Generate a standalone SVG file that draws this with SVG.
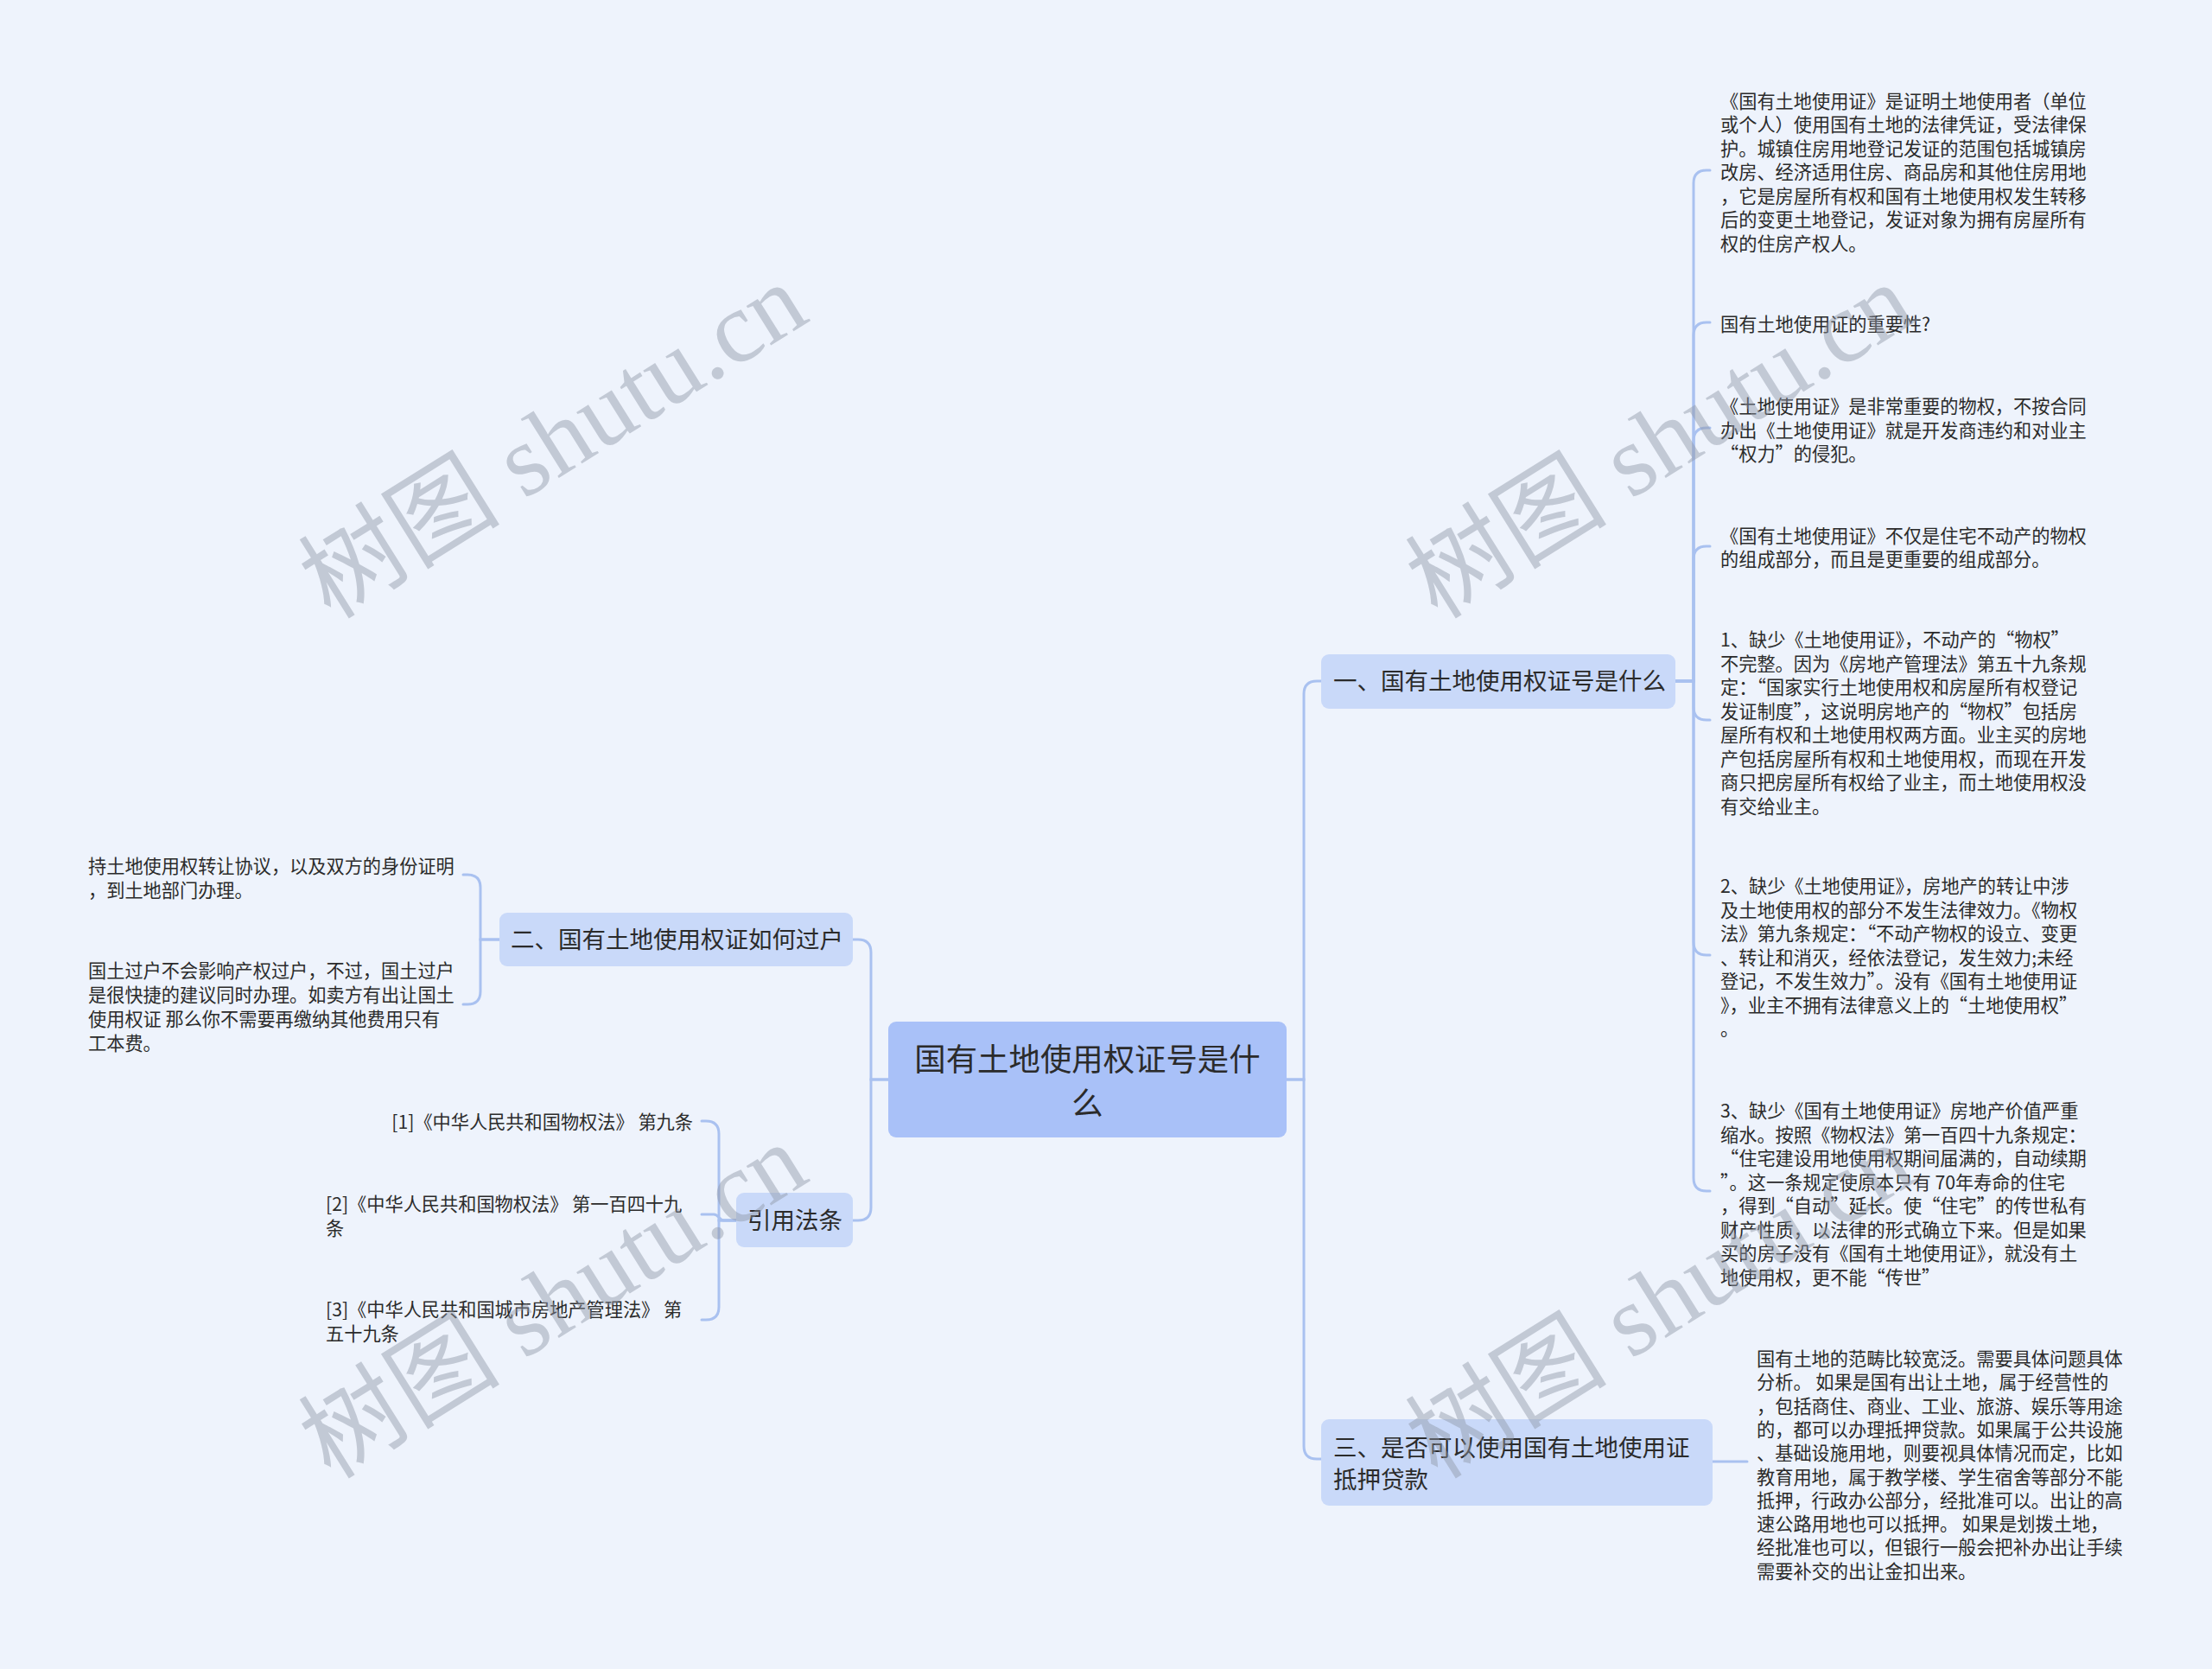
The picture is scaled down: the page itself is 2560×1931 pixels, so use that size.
<svg xmlns="http://www.w3.org/2000/svg" width="2560" height="1931" viewBox="0 0 2560 1931">
<style>
.bg{fill:#eef3fc}
.main{fill:#a9c1f8}
.branch{fill:#c9d9f9}
.conn{fill:none;stroke:#a9c1f0;stroke-width:3;stroke-linecap:round}
.t{font-family:"Noto Sans CJK SC","Noto Sans",sans-serif;fill:#2b2b2b}
.leaf{font-size:21.2px}
.bt{font-size:27.5px}
.mt{font-size:36.4px}
.q{font-feature-settings:"fwid" 1}
.wm{font-family:"Liberation Serif","Noto Sans CJK SC",serif;font-size:117px;fill:#8f97a6;opacity:0.45}
</style>
<rect class="bg" x="0" y="0" width="2560" height="1931"/>

<g id="connectors">
  <path class="conn" d="M1489 1249 H1509 V803 Q1509 788 1524 788 H1529"/>
  <path class="conn" d="M1489 1249 H1509 V1673 Q1509 1688 1524 1688 H1529"/>
  <path class="conn" d="M1028 1249 H1008 V1102 Q1008 1087 993 1087 H987"/>
  <path class="conn" d="M1028 1249 H1008 V1397 Q1008 1412 993 1412 H987"/>
  <path class="conn" d="M1939 788 H1960 V212 Q1960 197 1975 197 H1979"/>
  <path class="conn" d="M1939 788 H1960 V388 Q1960 373 1975 373 H1979"/>
  <path class="conn" d="M1939 788 H1960 V510 Q1960 495 1975 495 H1979"/>
  <path class="conn" d="M1939 788 H1960 V647 Q1960 632 1975 632 H1979"/>
  <path class="conn" d="M1939 788 H1960 V818 Q1960 833 1975 833 H1979"/>
  <path class="conn" d="M1939 788 H1960 V1090 Q1960 1105 1975 1105 H1979"/>
  <path class="conn" d="M1939 788 H1960 V1363 Q1960 1378 1975 1378 H1979"/>
  <path class="conn" d="M1982 1691 H2022"/>
  <path class="conn" d="M578 1087 H556 V1027 Q556 1012 541 1012 H536"/>
  <path class="conn" d="M578 1087 H556 V1147 Q556 1162 541 1162 H536"/>
  <path class="conn" d="M852 1412 H832 V1312 Q832 1297 817 1297 H812"/>
  <path class="conn" d="M852 1412 H838 C832 1412 832 1405 826 1405 H812"/>
  <path class="conn" d="M852 1412 H832 V1512 Q832 1527 817 1527 H812"/>
</g>

<g id="root">
  <rect class="main" x="1028" y="1182" width="461" height="134" rx="9"/>
  <text class="t mt" x="1258.5" text-anchor="middle"><tspan x="1258.5" y="1239">国有土地使用权证号是什</tspan><tspan x="1258.5" y="1290">么</tspan></text>
</g>

<g id="b1">
  <rect class="branch" x="1529" y="757" width="410" height="63" rx="9"/>
  <text class="t bt" x="1543" y="798">一、国有土地使用权证号是什么</text>
</g>
<g id="b2">
  <rect class="branch" x="578" y="1056" width="409" height="62" rx="9"/>
  <text class="t bt" x="591" y="1097">二、国有土地使用权证如何过户</text>
</g>
<g id="b3">
  <rect class="branch" x="1529" y="1642" width="453" height="100" rx="9"/>
  <text class="t bt"><tspan x="1543" y="1685">三、是否可以使用国有土地使用证</tspan><tspan x="1543" y="1722">抵押贷款</tspan></text>
</g>
<g id="b4">
  <rect class="branch" x="852" y="1380" width="135" height="63" rx="9"/>
  <text class="t bt" x="865" y="1422">引用法条</text>
</g>

<g id="c1">
  <text class="t leaf"><tspan x="1991" y="124.5">《国有土地使用证》是证明土地使用者（单位</tspan><tspan x="1991" y="152">或个人）使用国有土地的法律凭证，受法律保</tspan><tspan x="1991" y="179.5">护。城镇住房用地登记发证的范围包括城镇房</tspan><tspan x="1991" y="207">改房、经济适用住房、商品房和其他住房用地</tspan><tspan x="1991" y="234.5">，它是房屋所有权和国有土地使用权发生转移</tspan><tspan x="1991" y="262">后的变更土地登记，发证对象为拥有房屋所有</tspan><tspan x="1991" y="289.5">权的住房产权人。</tspan></text>
</g>
<g id="c2">
  <text class="t leaf" x="1991" y="383">国有土地使用证的重要性?</text>
</g>
<g id="c3">
  <text class="t leaf"><tspan x="1991" y="478">《土地使用证》是非常重要的物权，不按合同</tspan><tspan x="1991" y="505.5">办出《土地使用证》就是开发商违约和对业主</tspan><tspan x="1991" y="533"><tspan class="q">“</tspan>权力<tspan class="q">”</tspan>的侵犯。</tspan></text>
</g>
<g id="c4">
  <text class="t leaf"><tspan x="1991" y="627.5">《国有土地使用证》不仅是住宅不动产的物权</tspan><tspan x="1991" y="655">的组成部分，而且是更重要的组成部分。</tspan></text>
</g>
<g id="c5">
  <text class="t leaf"><tspan x="1991" y="748">1、缺少《土地使用证》，不动产的<tspan class="q">“</tspan>物权<tspan class="q">”</tspan></tspan><tspan x="1991" y="775.5">不完整。因为《房地产管理法》第五十九条规</tspan><tspan x="1991" y="803">定：<tspan class="q">“</tspan>国家实行土地使用权和房屋所有权登记</tspan><tspan x="1991" y="830.5">发证制度<tspan class="q">”</tspan>，这说明房地产的<tspan class="q">“</tspan>物权<tspan class="q">”</tspan>包括房</tspan><tspan x="1991" y="858">屋所有权和土地使用权两方面。业主买的房地</tspan><tspan x="1991" y="885.5">产包括房屋所有权和土地使用权，而现在开发</tspan><tspan x="1991" y="913">商只把房屋所有权给了业主，而土地使用权没</tspan><tspan x="1991" y="940.5">有交给业主。</tspan></text>
</g>
<g id="c6">
  <text class="t leaf"><tspan x="1991" y="1033">2、缺少《土地使用证》，房地产的转让中涉</tspan><tspan x="1991" y="1060.5">及土地使用权的部分不发生法律效力。《物权</tspan><tspan x="1991" y="1088">法》第九条规定：<tspan class="q">“</tspan>不动产物权的设立、变更</tspan><tspan x="1991" y="1115.5">、转让和消灭，经依法登记，发生效力;未经</tspan><tspan x="1991" y="1143">登记，不发生效力<tspan class="q">”</tspan>。没有《国有土地使用证</tspan><tspan x="1991" y="1170.5">》，业主不拥有法律意义上的<tspan class="q">“</tspan>土地使用权<tspan class="q">”</tspan></tspan><tspan x="1991" y="1198">。</tspan></text>
</g>
<g id="c7">
  <text class="t leaf"><tspan x="1991" y="1293">3、缺少《国有土地使用证》房地产价值严重</tspan><tspan x="1991" y="1320.5">缩水。按照《物权法》第一百四十九条规定：</tspan><tspan x="1991" y="1348"><tspan class="q">“</tspan>住宅建设用地使用权期间届满的，自动续期</tspan><tspan x="1991" y="1375.5"><tspan class="q">”</tspan>。这一条规定使原本只有 70年寿命的住宅</tspan><tspan x="1991" y="1403">，得到<tspan class="q">“</tspan>自动<tspan class="q">”</tspan>延长。使<tspan class="q">“</tspan>住宅<tspan class="q">”</tspan>的传世私有</tspan><tspan x="1991" y="1430.5">财产性质，以法律的形式确立下来。但是如果</tspan><tspan x="1991" y="1458">买的房子没有《国有土地使用证》，就没有土</tspan><tspan x="1991" y="1485.5">地使用权，更不能<tspan class="q">“</tspan>传世<tspan class="q">”</tspan></tspan></text>
</g>
<g id="c8">
  <text class="t leaf"><tspan x="2033" y="1580">国有土地的范畴比较宽泛。需要具体问题具体</tspan><tspan x="2033" y="1607.3">分析。 如果是国有出让土地，属于经营性的</tspan><tspan x="2033" y="1634.6">，包括商住、商业、工业、旅游、娱乐等用途</tspan><tspan x="2033" y="1661.9">的，都可以办理抵押贷款。如果属于公共设施</tspan><tspan x="2033" y="1689.2">、基础设施用地，则要视具体情况而定，比如</tspan><tspan x="2033" y="1716.5">教育用地，属于教学楼、学生宿舍等部分不能</tspan><tspan x="2033" y="1743.8">抵押，行政办公部分，经批准可以。出让的高</tspan><tspan x="2033" y="1771.1">速公路用地也可以抵押。 如果是划拨土地，</tspan><tspan x="2033" y="1798.4">经批准也可以，但银行一般会把补办出让手续</tspan><tspan x="2033" y="1825.7">需要补交的出让金扣出来。</tspan></text>
</g>
<g id="c9">
  <text class="t leaf"><tspan x="102" y="1010">持土地使用权转让协议，以及双方的身份证明</tspan><tspan x="102" y="1038">，到土地部门办理。</tspan></text>
</g>
<g id="c10">
  <text class="t leaf"><tspan x="102" y="1131">国土过户不会影响产权过户，不过，国土过户</tspan><tspan x="102" y="1159">是很快捷的建议同时办理。如卖方有出让国土</tspan><tspan x="102" y="1187">使用权证 那么你不需要再缴纳其他费用只有</tspan><tspan x="102" y="1215">工本费。</tspan></text>
</g>
<g id="c11">
  <text class="t leaf" x="802" y="1306" text-anchor="end">[1]《中华人民共和国物权法》 第九条</text>
</g>
<g id="c12">
  <text class="t leaf"><tspan x="377" y="1401">[2]《中华人民共和国物权法》 第一百四十九</tspan><tspan x="377" y="1429">条</tspan></text>
</g>
<g id="c13">
  <text class="t leaf"><tspan x="377" y="1523">[3]《中华人民共和国城市房地产管理法》 第</tspan><tspan x="377" y="1551">五十九条</tspan></text>
</g>

<g id="watermarks">
  <text class="wm" x="640" y="550" text-anchor="middle" transform="rotate(-32 640 510)">树图 shutu.cn</text>
  <text class="wm" x="1921" y="550" text-anchor="middle" transform="rotate(-32 1921 510)">树图 shutu.cn</text>
  <text class="wm" x="640" y="1545" text-anchor="middle" transform="rotate(-32 640 1505)">树图 shutu.cn</text>
  <text class="wm" x="1921" y="1545" text-anchor="middle" transform="rotate(-32 1921 1505)">树图 shutu.cn</text>
</g>
</svg>
